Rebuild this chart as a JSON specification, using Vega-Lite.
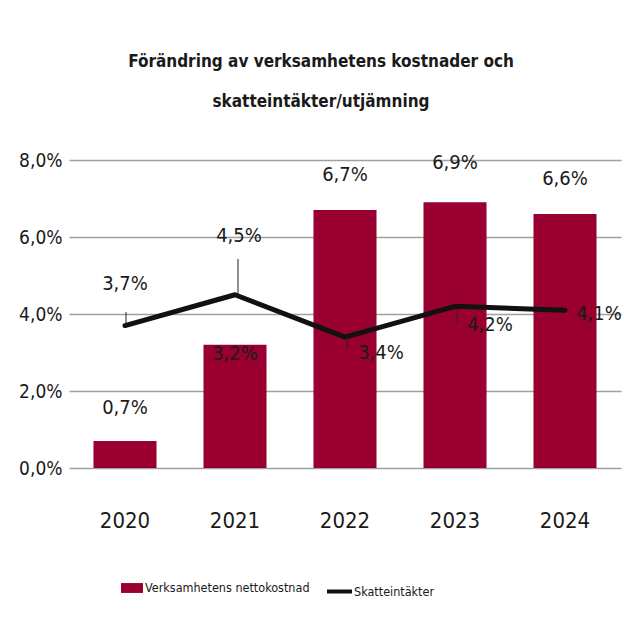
{
  "$schema": "https://vega.github.io/schema/vega-lite/v6.json",
  "width": 552,
  "height": 308,
  "autosize": {"type": "none"},
  "padding": {"left": 69, "top": 160, "right": 3, "bottom": 157},
  "background": "white",
  "title": {
    "text": ["Förändring av verksamhetens kostnader och", "skatteintäkter/utjämning"],
    "anchor": "middle",
    "dx": -24,
    "fontSize": 17,
    "font": "DejaVu Sans Condensed, sans-serif",
    "fontWeight": "bold",
    "color": "#1a1a1a",
    "lineHeight": 40,
    "offset": 40
  },
  "data": {
    "values": [
      {"year": "2020", "kost": 0.007, "skatt": 0.037},
      {"year": "2021", "kost": 0.032, "skatt": 0.045},
      {"year": "2022", "kost": 0.067, "skatt": 0.034},
      {"year": "2023", "kost": 0.069, "skatt": 0.042},
      {"year": "2024", "kost": 0.066, "skatt": 0.041}
    ]
  },
  "encoding": {
    "x": {
      "field": "year",
      "type": "nominal",
      "scale": {"paddingInner": 0.427, "paddingOuter": 0.2225},
      "axis": {
        "title": null,
        "labelAngle": 0,
        "labelFontSize": 22,
        "labelFont": "DejaVu Sans Condensed, sans-serif",
        "labelColor": "#1a1a1a",
        "labelPadding": 42,
        "domain": false,
        "ticks": false
      }
    }
  },
  "layer": [
    {
      "mark": {"type": "bar", "color": "#990030"},
      "encoding": {
        "y": {
          "field": "kost",
          "type": "quantitative",
          "scale": {"domain": [0, 0.08]},
          "axis": {
            "title": null,
            "format": ".1%",
            "values": [0, 0.02, 0.04, 0.06, 0.08],
            "labelFontSize": 19,
            "labelFont": "DejaVu Sans Condensed, sans-serif",
            "labelColor": "#1a1a1a",
            "labelPadding": 7,
            "domain": false,
            "ticks": false,
            "grid": true,
            "gridColor": "#a0a0a0",
            "gridWidth": 1.6
          }
        },
        "color": {
          "datum": "Verksamhetens nettokostnad",
          "scale": {"range": ["#990030"]},
          "legend": {
            "title": null,
            "orient": "none",
            "legendX": 52,
            "legendY": 417,
            "padding": 0,
            "symbolType": "M-1,-0.45H1V0.45H-1Z",
            "symbolSize": 484,
            "symbolStrokeWidth": 0,
            "labelFontSize": 12.5,
            "labelLimit": 0,
            "labelFont": "DejaVu Sans Condensed, sans-serif",
            "labelColor": "#1a1a1a",
            "labelOffset": 2
          }
        }
      }
    },
    {
      "mark": {"type": "line", "strokeWidth": 5, "strokeCap": "round", "strokeJoin": "round"},
      "encoding": {
        "y": {"field": "skatt", "type": "quantitative"},
        "stroke": {
          "datum": "Skatteintäkter",
          "scale": {"range": ["#111111"]},
          "legend": {
            "title": null,
            "orient": "none",
            "legendX": 256,
            "legendY": 417,
            "padding": 0,
            "symbolType": "stroke",
            "symbolSize": 625,
            "symbolStrokeWidth": 4,
            "labelFontSize": 12.5,
            "labelLimit": 0,
            "labelFont": "DejaVu Sans Condensed, sans-serif",
            "labelColor": "#1a1a1a",
            "labelOffset": 0
          }
        }
      }
    },
    {
      "transform": [{"filter": "datum.year == '2021'"}],
      "mark": {"type": "rule", "color": "#222222", "strokeWidth": 1, "xOffset": 3},
      "encoding": {"y": {"field": "skatt", "type": "quantitative"}, "y2": {"datum": 0.0543}}
    },
    {
      "transform": [{"filter": "datum.year == '2020'"}],
      "mark": {"type": "rule", "color": "#222222", "strokeWidth": 1, "xOffset": 1},
      "encoding": {"y": {"field": "skatt", "type": "quantitative"}, "y2": {"datum": 0.0405}}
    },
    {
      "transform": [{"filter": "datum.year == '2022'"}],
      "mark": {"type": "rule", "color": "#222222", "strokeWidth": 1, "xOffset": 2},
      "encoding": {"y": {"field": "skatt", "type": "quantitative"}, "y2": {"datum": 0.0312}}
    },
    {
      "transform": [{"filter": "datum.year == '2023'"}],
      "mark": {"type": "rule", "color": "#222222", "strokeWidth": 1, "xOffset": 2},
      "encoding": {"y": {"datum": 0.041}, "y2": {"datum": 0.0377}}
    },
    {
      "transform": [{"filter": "datum.year == '2020'"}],
      "mark": {"type": "text", "dy": -33, "fontSize": 20, "font": "DejaVu Sans Condensed, sans-serif", "color": "#1a1a1a"},
      "encoding": {"y": {"field": "kost", "type": "quantitative"}, "text": {"field": "kost", "type": "quantitative", "format": ".1%"}}
    },
    {
      "transform": [{"filter": "datum.year == '2021'"}],
      "mark": {"type": "text", "dy": 9, "fontSize": 20, "font": "DejaVu Sans Condensed, sans-serif", "color": "#1a1a1a"},
      "encoding": {"y": {"field": "kost", "type": "quantitative"}, "text": {"field": "kost", "type": "quantitative", "format": ".1%"}}
    },
    {
      "transform": [{"filter": "datum.year == '2022' || datum.year == '2024'"}],
      "mark": {"type": "text", "dy": -35, "fontSize": 20, "font": "DejaVu Sans Condensed, sans-serif", "color": "#1a1a1a"},
      "encoding": {"y": {"field": "kost", "type": "quantitative"}, "text": {"field": "kost", "type": "quantitative", "format": ".1%"}}
    },
    {
      "transform": [{"filter": "datum.year == '2023'"}],
      "mark": {"type": "text", "dy": -39, "fontSize": 20, "font": "DejaVu Sans Condensed, sans-serif", "color": "#1a1a1a"},
      "encoding": {"y": {"field": "kost", "type": "quantitative"}, "text": {"field": "kost", "type": "quantitative", "format": ".1%"}}
    },
    {
      "transform": [{"filter": "datum.year == '2020'"}],
      "mark": {"type": "text", "dy": -42, "fontSize": 20, "font": "DejaVu Sans Condensed, sans-serif", "color": "#1a1a1a"},
      "encoding": {"y": {"field": "skatt", "type": "quantitative"}, "text": {"field": "skatt", "type": "quantitative", "format": ".1%"}}
    },
    {
      "transform": [{"filter": "datum.year == '2021'"}],
      "mark": {"type": "text", "dx": 4, "dy": -59, "fontSize": 20, "font": "DejaVu Sans Condensed, sans-serif", "color": "#1a1a1a"},
      "encoding": {"y": {"field": "skatt", "type": "quantitative"}, "text": {"field": "skatt", "type": "quantitative", "format": ".1%"}}
    },
    {
      "transform": [{"filter": "datum.year == '2022'"}],
      "mark": {"type": "text", "dx": 36, "dy": 16, "fontSize": 20, "font": "DejaVu Sans Condensed, sans-serif", "color": "#1a1a1a"},
      "encoding": {"y": {"field": "skatt", "type": "quantitative"}, "text": {"field": "skatt", "type": "quantitative", "format": ".1%"}}
    },
    {
      "transform": [{"filter": "datum.year == '2023'"}],
      "mark": {"type": "text", "dx": 35, "dy": 19, "fontSize": 20, "font": "DejaVu Sans Condensed, sans-serif", "color": "#1a1a1a"},
      "encoding": {"y": {"field": "skatt", "type": "quantitative"}, "text": {"field": "skatt", "type": "quantitative", "format": ".1%"}}
    },
    {
      "transform": [{"filter": "datum.year == '2024'"}],
      "mark": {"type": "text", "dx": 34, "dy": 4, "fontSize": 20, "font": "DejaVu Sans Condensed, sans-serif", "color": "#1a1a1a"},
      "encoding": {"y": {"field": "skatt", "type": "quantitative"}, "text": {"field": "skatt", "type": "quantitative", "format": ".1%"}}
    }
  ],
  "config": {
    "locale": {"number": {"decimal": ",", "thousands": " ", "grouping": [3], "currency": ["", " kr"]}},
    "view": {"stroke": null}
  }
}
